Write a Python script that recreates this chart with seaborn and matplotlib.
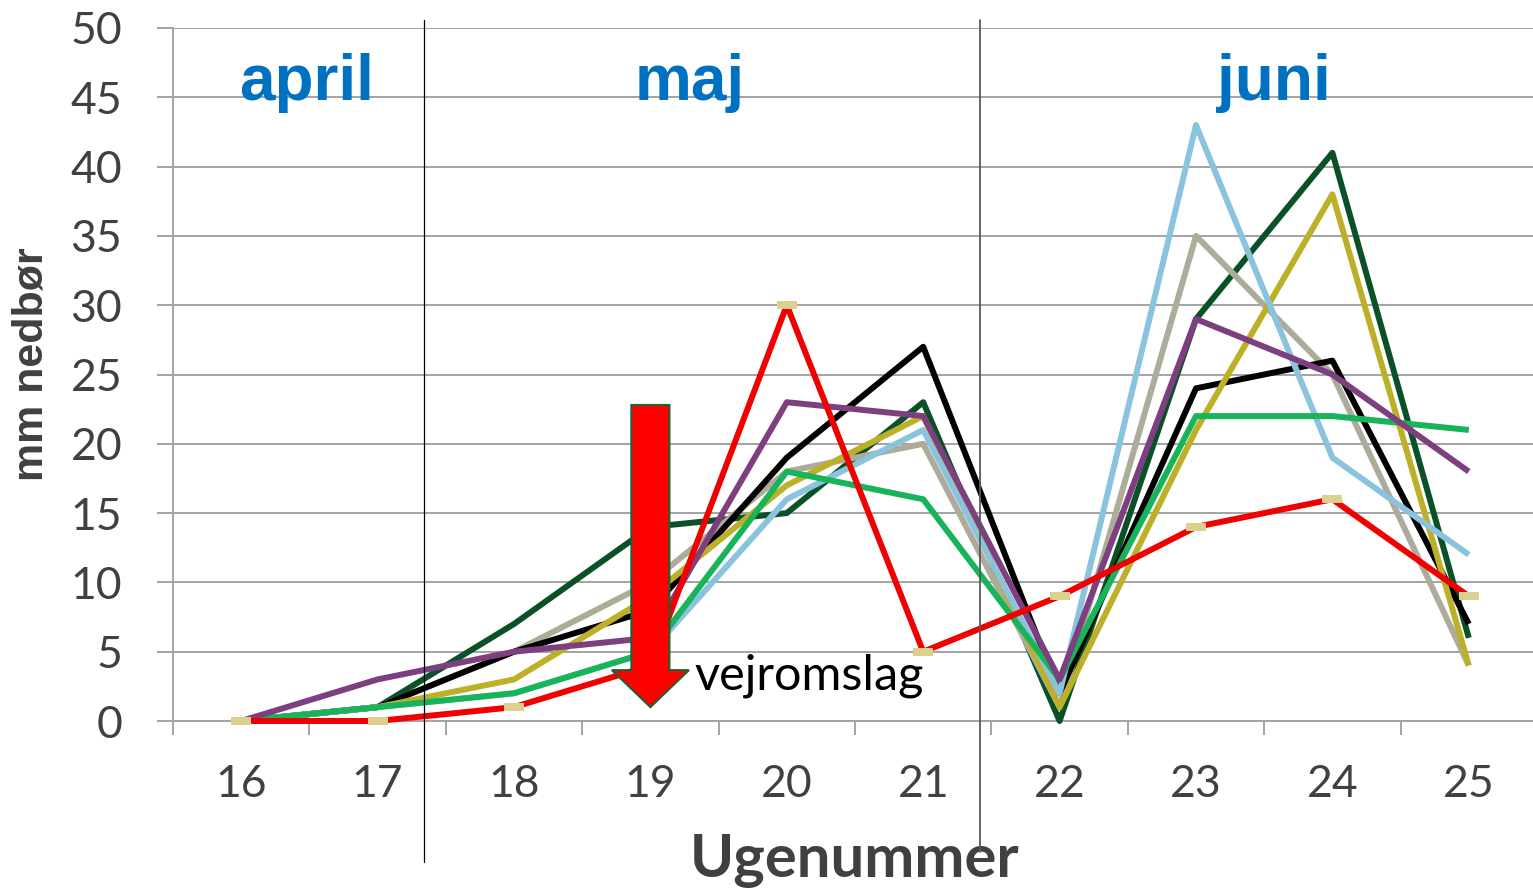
import numpy as np
import pandas as pd
import matplotlib
matplotlib.use("Agg")
import matplotlib.pyplot as plt
import seaborn as sns
from matplotlib.patches import FancyArrow
from matplotlib.ticker import FixedLocator

# ---------------- data ----------------
weeks = [16, 17, 18, 19, 20, 21, 22, 23, 24, 25]
serie_a = [0, 1, 7, 14, 15, 23, 0, 29, 41, 6]     # dark green
serie_b = [0, 1, 5, 10, 18, 20, 1, 35, 25, 4]     # grey-beige
serie_c = [0, 1, 5, 8, 19, 27, 2, 24, 26, 7]      # black
serie_d = [0, 1, 3, 9, 17, 22, 1, 21, 38, 4]      # olive
serie_f = [0, 1, 2, 5, 16, 21, 2, 43, 19, 12]     # light blue
serie_e = [0, 1, 2, 5, 18, 16, 3, 22, 22, 21]     # green
serie_g = [0, 3, 5, 6, 23, 22, 3, 29, 25, 18]     # purple
serie_h = [0, 0, 1, 4, 30, 5, 9, 14, 16, 9]       # red

series_names = ["A", "B", "C", "D", "F", "E", "G", "H"]
series_values = [serie_a, serie_b, serie_c, serie_d, serie_f, serie_e, serie_g, serie_h]
series_colors = ["#0B5127", "#ADAB99", "#000000", "#BCB028",
                 "#8AC3DE", "#17B45A", "#7E3F80", "#F00000"]

months = ["april", "maj", "juni"]
month_x = [16.48, 19.29, 23.57]
yticks = [0, 5, 10, 15, 20, 25, 30, 35, 40, 45, 50]

df = pd.DataFrame({
    "Uge": np.tile(weeks, len(series_names)),
    "mm": np.concatenate(series_values),
    "serie": np.repeat(series_names, len(weeks)),
})
palette = dict(zip(series_names, series_colors))

# ---------------- style ----------------
sns.set_theme(style="white")
plt.rcParams["font.family"] = ["Lato", "DejaVu Sans"]
GRID = "#A3A3A3"
TXT = "#404040"

W, H = 1533, 889
fig = plt.figure(figsize=(W / 100, H / 100), dpi=100)
x0, x1, y0, y1 = 173, 1537, 721, 28
ax = fig.add_axes([x0 / W, (H - y0) / H, (x1 - x0) / W, (y0 - y1) / H])

LW = 4.3
sns.lineplot(data=df, x="Uge", y="mm", hue="serie", hue_order=series_names,
             palette=palette, linewidth=LW, legend=False, ax=ax, sort=False,
             zorder=3)
for ln in ax.lines:
    ln.set_clip_on(False)
    ln.set_linewidth(LW)
    ln.set_solid_joinstyle("round")
    ln.set_solid_capstyle("butt")

# small khaki markers on the red series
rect = [(-1, -0.45), (1, -0.45), (1, 0.45), (-1, 0.45), (-1, -0.45)]
ax.plot(weeks, serie_h, ls="none", marker=rect, ms=14, mew=0,
        color="#DDD08E", zorder=4, clip_on=False)

ax.set_xlim(15.5, 25.5)
ax.set_ylim(0, 50)

# grid & spines
ax.set_yticks(yticks)
ax.yaxis.grid(True, color=GRID, lw=1.4)
ax.xaxis.grid(False)
ax.set_axisbelow(True)
for s in ["top", "right"]:
    ax.spines[s].set_visible(False)
for s in ["left", "bottom"]:
    ax.spines[s].set_color(GRID)
    ax.spines[s].set_linewidth(1.4)

ax.set_xticks(weeks)
ax.set_xticklabels([str(w) for w in weeks])
ax.xaxis.set_minor_locator(FixedLocator(np.arange(15.5, 26.0, 1.0)))
ax.tick_params(axis="x", which="major", bottom=False, length=0, pad=31,
               labelsize=32, labelcolor=TXT)
ax.tick_params(axis="x", which="minor", bottom=True, length=10, width=1.4,
               color=GRID, direction="out")
ax.tick_params(axis="y", which="major", left=True, length=11.5, width=1.4,
               color=GRID, direction="out", pad=25, labelsize=32,
               labelcolor=TXT)

# axis labels
ax.set_ylabel("mm nedbør", fontsize=31, fontweight="bold", color=TXT,
              family=["Liberation Sans", "DejaVu Sans"])
ax.yaxis.set_label_coords((52 - x0) / (x1 - x0), (y0 - 364) / (y0 - y1))
ax.set_xlabel("Ugenummer", fontsize=43, fontweight="bold", color=TXT)
ax.xaxis.label.set_va("baseline")
ax.xaxis.set_label_coords(0.5, (y0 - 877) / (y0 - y1))

# month labels
for m, mx in zip(months, month_x):
    ax.text(mx, 44.8, m, ha="center", va="baseline", fontsize=46,
            fontweight="bold", color="#0070C0",
            family=["Liberation Sans", "DejaVu Sans"], zorder=6)

# month separators (extend beyond the plot area)
trans = ax.get_xaxis_transform()
yt = (y0 - 20) / (y0 - y1)
ax.plot([17.34, 17.34], [yt, (y0 - 862) / (y0 - y1)], color="#000000",
        lw=0.9, transform=trans, clip_on=False, zorder=5)
ax.plot([21.42, 21.42], [yt, (y0 - 852) / (y0 - y1)], color="#595959",
        lw=1.3, transform=trans, clip_on=False, zorder=5)

# weather-change arrow
arrow = FancyArrow(19.0, 22.8, 0, -21.8, width=0.279, head_width=0.565,
                   head_length=2.67, length_includes_head=True,
                   fc="#FF0000", ec="#1F5F30", lw=1.5, zorder=10)
ax.add_patch(arrow)
ax.text(19.32, 2.24, "vejromslag", ha="left", va="baseline", fontsize=35,
        color="#000000", zorder=11)

fig.savefig("out.png", dpi=100)
